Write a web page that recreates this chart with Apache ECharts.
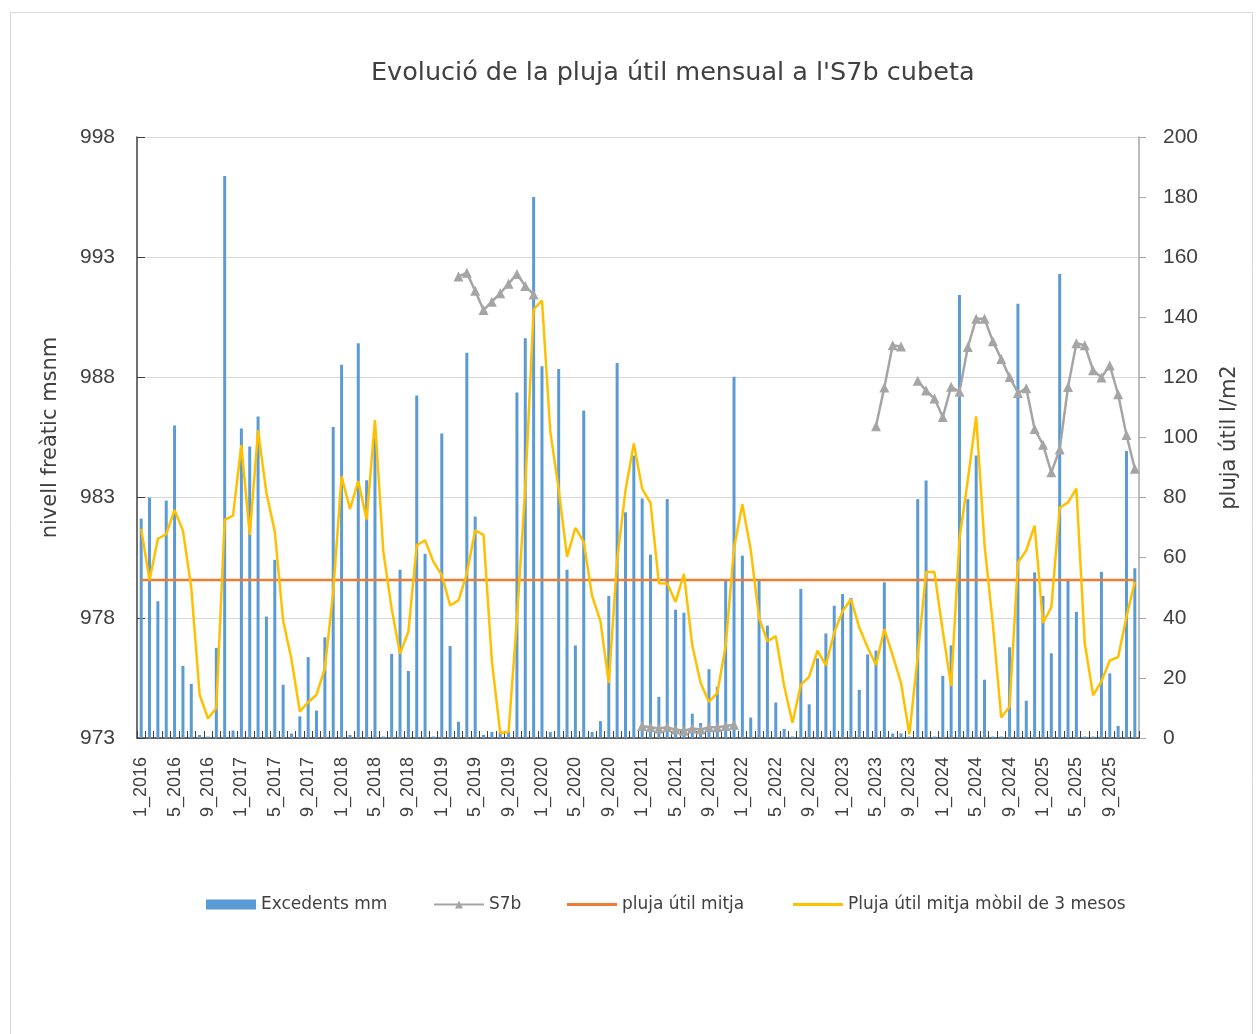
<!DOCTYPE html>
<html>
<head>
<meta charset="utf-8">
<script src="https://cdn.jsdelivr.net/npm/echarts@6/dist/echarts.min.js"></script>
<style>
html,body{margin:0;padding:0;background:#fff;}
#chart{width:1259px;height:1034px;}
</style>
</head>
<body>
<div id="chart"></div>
<script>
// ---- Data ----
const years = [2016, 2017, 2018, 2019, 2020, 2021, 2022, 2023, 2024, 2025];
const months = [1, 2, 3, 4, 5, 6, 7, 8, 9, 10, 11, 12];
const categories = [];
years.forEach(y => months.forEach(m => categories.push(m + '_' + y)));

// Excedents mm (right axis, l/m2)
const excedents = [
  73, 80, 45.5, 79, 104, 24, 18, 1, 0.5, 30, 187, 2.5,
  103, 97, 107, 40.4, 59.3, 17.7, 1.5, 7.2, 26.9, 9.1, 33.5, 103.5,
  124.2, 1, 131.4, 85.8, 100, 0.5, 28, 56, 22.3, 114, 61.3, 0.5,
  101.3, 30.6, 5.4, 128.2, 73.7, 1, 2, 2, 2, 115, 133, 180,
  123.7, 2, 122.8, 56, 30.8, 109, 2, 5.6, 47.3, 124.8, 75.1, 94,
  79.7, 61, 13.7, 79.5, 42.7, 41.7, 8.1, 5, 22.9, 17, 52.5, 120.2,
  60.7, 6.8, 52.5, 37.4, 11.8, 3, 0.5, 49.6, 11.2, 26.5, 34.8, 44,
  47.9, 46.6, 16, 27.8, 29.1, 51.8, 1.5, 1.5, 0.5, 79.5, 85.7, 0.5,
  20.7, 30.8, 147.4, 79.5, 94, 19.4, 0.5, 0.5, 30.2, 144.5, 12.4, 55.1,
  47.3, 28.2, 154.4, 52.5, 42, 0.5, 0.5, 55.3, 21.5, 4, 95.5, 56.5
];

// S7b water level (left axis, msnm)
const s7b = [
  null, null, null, null, null, null, null, null, null, null, null, null,
  null, null, null, null, null, null, null, null, null, null, null, null,
  null, null, null, null, null, null, null, null, null, null, null, null,
  null, null, 992.2, 992.35, 991.6, 990.8, 991.15, 991.5, 991.9, 992.3, 991.8, 991.45,
  null, null, null, null, null, null, null, null, null, null, null, null,
  973.5, 973.45, 973.4, 973.45, 973.35, 973.3, 973.4, 973.35, 973.45, 973.45, 973.5, 973.55,
  null, null, null, null, null, null, null, null, null, null, null, null,
  null, null, null, null, 985.97, 987.58, 989.34, 989.29, null, 987.86, 987.45, 987.12,
  986.35, 987.61, 987.4, 989.26, 990.44, 990.44, 989.5, 988.77, 988.02, 987.35, 987.55, 985.85,
  985.2, 984.05, 985.0, 987.6, 989.42, 989.34, 988.3, 988.0, 988.5, 987.3, 985.6, 984.2
];

// Mean useful rainfall (constant)
const plujaUtilMitjaValor = 52.6;

// 3-month moving average
const mitjaMobil = [
  69.6, 52.5, 66.3, 67.8, 75.9, 69, 50, 14.4, 6.5, 10, 72.6, 74,
  97.5, 67.6, 102.4, 81.5, 68.7, 39.1, 26.2, 8.8, 11.9, 14.4, 23.2, 48.7,
  87.1, 76.2, 85.5, 72.7, 105.8, 62, 43, 28, 35.4, 64.1, 65.8, 58.6,
  54.2, 44.1, 45.8, 54.7, 69.1, 67.6, 25.6, 1.7, 2, 39.7, 83.3, 142.6,
  145.6, 101.9, 82.8, 60.3, 69.9, 65.3, 47.3, 38.9, 18.3, 59.2, 82.4, 98,
  82.9, 78.2, 51.5, 51.4, 45.3, 54.6, 30.8, 18.3, 12, 15, 30.8, 63.2,
  77.8, 62.6, 40, 32.2, 33.9, 17.4, 5.1, 17.7, 20.4, 29.1, 24.2, 35.1,
  42.2, 46.2, 36.8, 30.1, 24.3, 36.2, 27.5, 18.3, 1.2, 27.2, 55.2, 55.2,
  35.6, 17.3, 66.3, 85.9, 107, 64.3, 37.8, 6.8, 10.4, 58.4, 62.4, 70.7,
  38.3, 43.5, 76.6, 78.4, 83, 31.7, 14.2, 18.8, 25.8, 26.9, 40.3, 52
];

const plujaUtilMitja = categories.map(() => plujaUtilMitjaValor);

// ---- Chart ----
const FONT = 'Liberation Sans';
const WIDE = 'DejaVu Sans';
const chart = echarts.init(document.getElementById('chart'), null, {renderer: 'canvas'});
const legendText = {fontSize: 17, color: '#404040', fontFamily: WIDE};
const legendBase = {top: 891, itemWidth: 50, itemHeight: 10, itemGap: 0, textStyle: legendText};
chart.setOption({
  animation: false,
  backgroundColor: '#fff',
  textStyle: {fontFamily: FONT},
  graphic: [{
    type: 'rect', left: 8, top: 10, silent: true,
    shape: {width: 1242, height: 1040},
    style: {fill: 'none', stroke: '#d9d9d9', lineWidth: 1}
  }],
  title: {
    text: "Evolució de la pluja útil mensual a l'S7b cubeta",
    left: 366, top: 55,
    textStyle: {fontSize: 25.5, fontWeight: 'normal', color: '#404040', fontFamily: WIDE}
  },
  legend: [
    Object.assign({}, legendBase, {left: 201, data: [{name: 'Excedents mm', icon: 'rect'}]}),
    Object.assign({}, legendBase, {left: 428, data: ['S7b']}),
    Object.assign({}, legendBase, {left: 562, itemHeight: 3, data: [{name: 'pluja útil mitja', icon: 'rect'}]}),
    Object.assign({}, legendBase, {left: 788, itemHeight: 3, data: [{name: 'Pluja útil mitja mòbil de 3 mesos', icon: 'rect'}]})
  ],
  grid: {left: 137, right: 120, top: 137, bottom: 296, containLabel: false},
  xAxis: {
    type: 'category',
    data: categories,
    boundaryGap: true,
    axisLine: {lineStyle: {color: '#404040', width: 1.5}},
    axisTick: {show: true, inside: true, length: 7, interval: 0, lineStyle: {color: '#404040'}},
    axisLabel: {interval: 3, rotate: 90, fontSize: 18, color: '#404040', margin: 19, fontFamily: FONT},
    splitLine: {show: false}
  },
  yAxis: [
    {
      type: 'value', position: 'left', min: 973, max: 998, interval: 5,
      name: 'nivell freàtic msnm', nameLocation: 'middle', nameRotate: 90, nameGap: 76,
      nameTextStyle: {fontSize: 21, color: '#404040', fontFamily: WIDE},
      axisLine: {show: true, lineStyle: {color: '#404040', width: 1.5}},
      axisTick: {show: true, inside: true, length: 8, lineStyle: {color: '#404040'}},
      axisLabel: {fontSize: 21, color: '#404040', margin: 22, fontFamily: FONT},
      splitLine: {show: true, lineStyle: {color: '#d9d9d9', width: 1}}
    },
    {
      type: 'value', position: 'right', min: 0, max: 200, interval: 20,
      name: 'pluja útil l/m2', nameLocation: 'middle', nameRotate: 90, nameGap: 80,
      nameTextStyle: {fontSize: 21, color: '#404040', fontFamily: WIDE},
      axisLine: {show: true, lineStyle: {color: '#a6a6a6', width: 1.5}},
      axisTick: {show: true, inside: false, length: 7, lineStyle: {color: '#a6a6a6'}},
      axisLabel: {fontSize: 21, color: '#404040', margin: 24, fontFamily: FONT},
      splitLine: {show: false}
    }
  ],
  series: [
    {
      name: 'Excedents mm', type: 'bar', yAxisIndex: 1, data: excedents,
      barWidth: 3, itemStyle: {color: '#5b9bd5'}
    },
    {
      name: 'S7b', type: 'line', yAxisIndex: 0, data: s7b,
      connectNulls: false, showAllSymbol: true,
      symbol: 'triangle', symbolSize: 10,
      lineStyle: {color: '#a5a5a5', width: 2.5},
      itemStyle: {color: '#a5a5a5'}
    },
    {
      name: 'pluja útil mitja', type: 'line', yAxisIndex: 1, data: plujaUtilMitja,
      symbol: 'none',
      lineStyle: {color: '#ed7d31', width: 2.5},
      itemStyle: {color: '#ed7d31'}
    },
    {
      name: 'Pluja útil mitja mòbil de 3 mesos', type: 'line', yAxisIndex: 1, data: mitjaMobil,
      symbol: 'none',
      lineStyle: {color: '#ffc000', width: 2.5},
      itemStyle: {color: '#ffc000'}
    }
  ]
});
</script>
</body>
</html>
